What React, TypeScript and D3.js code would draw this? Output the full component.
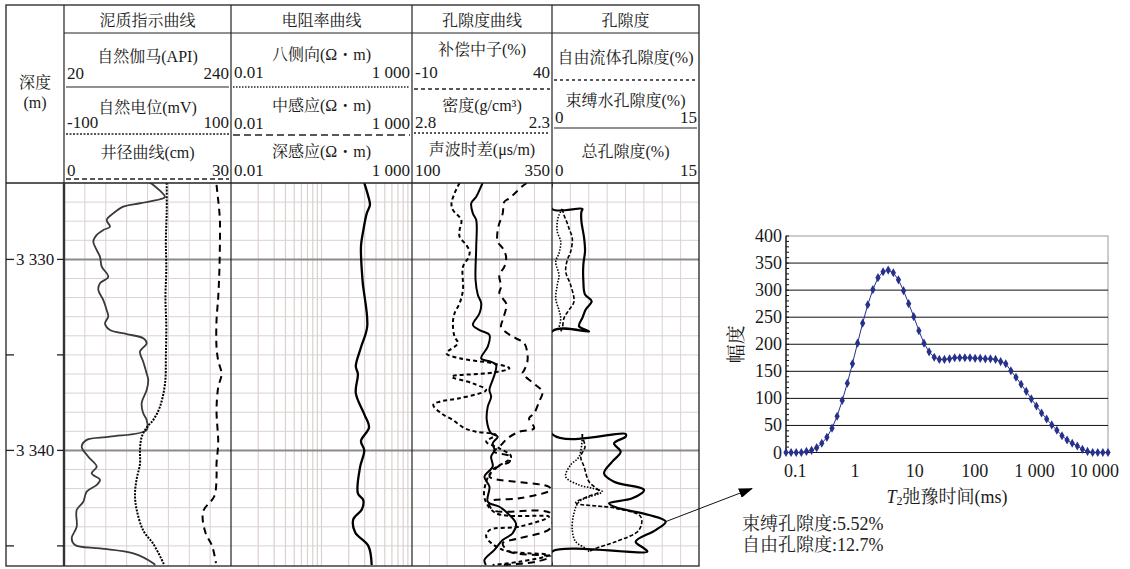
import * as d3 from "d3";

// ---------- well log curves, [depth (m), value] ----------
const depthTicks = [3330, 3335, 3340, 3345];
const depthLabelTicks = [3330, 3340];

const grCurve: [number, number][] = [
  [3326.0, 133], [3326.1, 137.6], [3326.72, 153], [3326.8, 150.8], [3327.06, 120.1], [3327.24, 98.1],
  [3327.59, 84.9], [3327.94, 76.2], [3328.29, 80.6], [3328.46, 71.8], [3328.72, 63.1], [3329.07, 58.6],
  [3329.51, 63.1], [3329.86, 67.4], [3330.38, 69.7], [3330.91, 78.3], [3331.25, 67.4], [3331.6, 65.2],
  [3332.13, 71.8], [3332.65, 76.2], [3333.0, 78.3], [3333.35, 74], [3333.7, 80.6], [3333.91, 102.6],
  [3334.13, 124.4], [3334.39, 128.9], [3334.83, 120.1], [3335.36, 124.4], [3335.97, 128.9], [3336.31, 131],
  [3336.84, 128.9], [3337.53, 122.3], [3338.06, 124.4], [3338.41, 128.9], [3338.93, 128.9], [3339.28, 80.6],
  [3339.45, 49.9], [3339.81, 43.3], [3340.33, 52], [3340.85, 63.1], [3341.2, 56.5], [3341.54, 67.4],
  [3341.81, 63.1], [3342.16, 49.9], [3342.69, 45.4], [3343.12, 36.7], [3344.0, 36.7], [3344.6, 30.1],
  [3344.95, 34.5], [3345.13, 67.4], [3345.39, 111.3], [3345.91, 137.6], [3346, 140],
];

const spCurve: [number, number][] = [
  [3326.0, 23], [3327.5, 23], [3329, 22], [3330.5, 22.5], [3332, 21.5], [3333.5, 22.5], [3335, 22],
  [3336.5, 21], [3337.7, 15], [3338.4, 7], [3338.8, -1], [3339.3, -7], [3340, -9], [3340.7, -9],
  [3341.5, -13], [3342.3, -15], [3343.1, -13], [3344.2, -5], [3344.9, 7], [3345.9, 19], [3346, 20],
];

const calCurve: [number, number][] = [
  [3326.1, 27.4], [3326.9, 27.7], [3327.9, 28], [3329.3, 28], [3330.7, 27.9], [3332, 27.7], [3333.2, 27.4],
  [3334.6, 27.4], [3335.3, 27.7], [3336, 28.3], [3336.7, 27.7], [3337.9, 27.4], [3339.6, 27.7], [3340.7, 27.4],
  [3341.4, 27.4], [3342.4, 27.0], [3343.2, 25.0], [3344.3, 25.4], [3345.0, 26.6], [3345.9, 27.3],
];

const deepResCurve: [number, number][] = [
  [3326.0, 48], [3326.1, 50], [3326.7, 62], [3327.15, 69], [3327.6, 56], [3328.5, 45], [3329.3, 39],
  [3331.1, 43], [3333.5, 58], [3334.6, 39], [3335.6, 28], [3336.0, 32], [3337.0, 28], [3338.1, 48],
  [3338.8, 65], [3339.5, 39], [3340.0, 48], [3340.85, 37], [3342.25, 32], [3342.6, 45], [3343.1, 41],
  [3343.6, 24], [3344.3, 27], [3345.0, 62], [3346.0, 77],
];

const acCurve: [number, number][] = [
  [3326.0, 226], [3326.16, 223.6], [3326.72, 214.7], [3327.06, 205.8], [3327.59, 208.7], [3327.94, 214.7],
  [3329.33, 214.7], [3331.08, 213.5], [3331.86, 217.6], [3332.3, 223.6], [3332.82, 220.6], [3333.43, 208.7],
  [3333.7, 220.6], [3333.96, 238.3], [3334.57, 235.3], [3335.18, 223.6], [3335.36, 241.3], [3335.53, 250.2],
  [3336.05, 247.2], [3336.31, 244.1], [3336.84, 238.3], [3337.19, 241.3], [3337.71, 235.3], [3338.41, 233.5],
  [3339.1, 241.3], [3339.28, 253], [3339.63, 244.1], [3339.98, 247.2], [3340.33, 241.3], [3340.85, 244.1],
  [3341.38, 229.4], [3341.9, 238.3], [3342.69, 235.3], [3342.95, 256], [3343.29, 270.7], [3343.82, 285.6],
  [3344.34, 279.6], [3344.69, 261.9], [3345.21, 247.2], [3345.74, 229.4], [3346.0, 232],
];

const cnlCurve: [number, number][] = [
  [3326.0, 31], [3326.16, 29.5], [3326.8, 24.8], [3326.98, 23], [3327.59, 22.4], [3328.11, 21.2],
  [3328.46, 20.6], [3329.07, 20.6], [3329.42, 22.4], [3329.86, 23.6], [3330.38, 23], [3330.82, 21.2],
  [3331.43, 21.8], [3331.77, 21.2], [3332.3, 23.6], [3332.56, 23.6], [3333.17, 22.4], [3333.52, 21.8],
  [3333.87, 24.1], [3334.13, 27.1], [3334.39, 30.1], [3334.92, 31.2], [3335.36, 31.2], [3335.79, 30.1],
  [3335.96, 29.5], [3336.58, 34.2], [3336.93, 36.6], [3337.45, 35.4], [3338.06, 33.6], [3338.32, 31.8],
  [3338.84, 33.6], [3339.02, 28.3], [3339.37, 24.1], [3339.72, 21.8], [3340.07, 19.4], [3340.3, 24.8],
  [3340.6, 24.8], [3340.8, 21.2], [3341.1, 18.8], [3341.38, 17.7], [3341.9, 38.9], [3342.07, 39.5],
  [3342.51, 28.3], [3342.69, 17.7], [3343.12, 18.8], [3343.29, 39.5], [3344.06, 39.5], [3344.6, 28.3],
  [3344.86, 22.4], [3345.3, 24.8], [3345.56, 39.5], [3345.83, 34.2], [3346.0, 22.4],
];

const denCurve: [number, number][] = [
  [3326.0, 2.63], [3326.16, 2.636], [3326.54, 2.648], [3327.06, 2.659], [3327.41, 2.654], [3327.94, 2.624],
  [3328.46, 2.63], [3328.81, 2.63], [3329.25, 2.606], [3329.6, 2.594], [3329.94, 2.6], [3330.38, 2.618],
  [3331.6, 2.618], [3332.3, 2.63], [3332.82, 2.648], [3333.35, 2.654], [3334.05, 2.648], [3334.39, 2.636],
  [3334.92, 2.677], [3335.18, 2.63], [3335.44, 2.512], [3335.7, 2.452], [3335.93, 2.512], [3336.14, 2.659],
  [3336.49, 2.583], [3336.84, 2.535], [3337.27, 2.63], [3337.45, 2.701], [3337.62, 2.724], [3338.06, 2.695],
  [3338.41, 2.654], [3338.84, 2.612], [3339.02, 2.571], [3339.19, 2.5], [3339.54, 2.535], [3339.89, 2.488],
  [3340.33, 2.446], [3341.03, 2.512], [3341.64, 2.535], [3342.51, 2.541], [3343.29, 2.5], [3343.47, 2.311],
  [3343.99, 2.417], [3344.17, 2.523], [3344.52, 2.535], [3345.21, 2.476], [3345.48, 2.311], [3345.83, 2.417],
  [3346.0, 2.512],
];

const totalPor: [number, number][] = [
  [3326, 0], [3327.36, 0], [3327.36, 3.1], [3327.5, 3.0], [3328.0, 3.0], [3328.86, 3.27], [3329.57, 3.37],
  [3330.27, 3.2], [3331.14, 3.2], [3331.84, 3.37], [3332.19, 4.05], [3332.62, 3.44], [3333.06, 3.1],
  [3333.5, 2.76], [3333.77, 3.78], [3333.77, 0], [3339.14, 0], [3339.14, 7.52], [3339.28, 7.52],
  [3339.63, 6.33], [3340.07, 7.01], [3340.59, 6.15], [3341.2, 5.31], [3341.64, 6.33], [3342.07, 9.39],
  [3342.51, 8.19], [3342.77, 5.82], [3342.98, 6.5], [3343.38, 9.9], [3343.73, 11.6], [3344.17, 10.58],
  [3344.78, 8.54], [3345.13, 9.39], [3345.3, 9.73], [3345.3, 0], [3346, 0],
];
const freePorUpper: [number, number][] = [
  [3327.36, 1.05], [3327.68, 1.22], [3328.11, 1.56], [3328.37, 1.73], [3328.9, 2.07], [3329.6, 1.9],
  [3330.03, 1.56], [3330.64, 1.4], [3331.34, 1.9], [3332.21, 2.24], [3332.65, 1.73], [3333.08, 1.22],
  [3333.61, 1.05], [3333.77, 0.89],
];
const boundPorUpper: [number, number][] = [
  [3327.36, 1.05], [3327.68, 0.71], [3328.03, 0.54], [3328.55, 0.54], [3329.07, 0.89], [3329.68, 0.71],
  [3330.12, 0.38], [3330.82, 0.71], [3331.34, 0.54], [3332.04, 0.38], [3332.65, 0.71], [3333.08, 0.89],
  [3333.61, 0.71], [3333.77, 0.71],
];
const freePorLower: [number, number][] = [
  [3339.14, 3.1], [3339.28, 3.1], [3339.81, 3.37], [3340.33, 2.93], [3340.85, 3.27], [3341.64, 3.78],
  [3342.16, 4.8], [3342.39, 3.78], [3342.74, 2.42], [3343.03, 6.5], [3343.47, 9.05], [3344.17, 8.88],
  [3344.78, 6.5], [3345.13, 4.46], [3345.3, 3.78],
];
const boundPorLower: [number, number][] = [
  [3339.14, 3.1], [3339.28, 3.1], [3340.33, 2.76], [3340.76, 1.9], [3341.38, 1.4], [3341.81, 2.76],
  [3341.98, 4.11], [3342.16, 5.13], [3342.69, 2.76], [3343.29, 2.24], [3344.17, 2.07], [3344.78, 2.42],
  [3345.13, 3.44], [3345.3, 3.78],
];
// sample depth the arrow points from (total porosity peak)
const arrowFrom: [number, number] = [3343.73, 11.6];

// ---------- T2 spectrum ----------
const t2Times = [
  0.07, 0.0852, 0.1038, 0.1264, 0.1538, 0.1873, 0.228, 0.2777, 0.3381, 0.4116, 0.5011, 0.6101, 0.7428,
  0.9044, 1.101, 1.34, 1.632, 1.987, 2.419, 2.945, 3.586, 4.367, 5.316, 6.473, 7.881, 9.596, 11.68, 14.22,
  17.32, 21.09, 25.67, 31.26, 38.06, 46.34, 56.42, 68.7, 83.64, 101.8, 124.0, 150.9, 183.8, 223.7, 272.4,
  331.7, 403.8, 491.7, 598.6, 728.8, 887.3, 1080, 1315, 1601, 1950, 2374, 2890, 3518, 4284, 5215, 6350,
  7731, 9412, 11460, 13950, 16990,
];
const t2Amp = [
  0, 0, 0, 0, 2, 4, 9, 17, 28, 45, 67, 96, 128, 164, 202, 239, 273, 301, 323, 334, 337, 332, 319, 299,
  275, 251, 225, 202, 186, 176, 172, 172, 173, 175, 175, 175, 175, 174, 174, 173, 173, 172, 168, 164,
  151, 139, 126, 113, 99, 86, 73, 62, 51, 41, 31, 23, 17, 12, 6, 2, 0, 0, 0, 0,
];
const t2YTicks = [0, 50, 100, 150, 200, 250, 300, 350, 400];
const t2XTicks = [0.1, 1, 10, 100, 1000, 10000];
const boundText = "束缚孔隙度:5.52%";
const freeText = "自由孔隙度:12.7%";

const FONT = '"Liberation Serif", "Noto Serif CJK SC", "Noto Sans CJK SC", serif';
const GRID = "#dcd0d0";
const BLUE = "#27308a";

const spaced = (v: number) => d3.format(",")(v).replace(/,/g, " ");

type Sub = { name: string; ny: number; left?: string; right?: string; sy?: number; line?: { y: number; dash?: string } };
type Col = { key: string; x0: number; x1: number; title: string; subs: Sub[] };

const columns: Col[] = [
  {
    key: "gr", x0: 64, x1: 231, title: "泥质指示曲线",
    subs: [
      { name: "自然伽马(API)", ny: 62, left: "20", right: "240", sy: 79, line: { y: 87 } },
      { name: "自然电位(mV)", ny: 113, left: "-100", right: "100", sy: 128, line: { y: 134, dash: "2 1.5" } },
      { name: "井径曲线(cm)", ny: 158, left: "0", right: "30", sy: 176, line: { y: 179, dash: "5 3" } },
    ],
  },
  {
    key: "res", x0: 231, x1: 412, title: "电阻率曲线",
    subs: [
      { name: "八侧向(Ω・m)", ny: 60, left: "0.01", right: "1 000", sy: 78, line: { y: 87, dash: "1.5 1.5" } },
      { name: "中感应(Ω・m)", ny: 111, left: "0.01", right: "1 000", sy: 129, line: { y: 135, dash: "7 4" } },
      { name: "深感应(Ω・m)", ny: 157, left: "0.01", right: "1 000", sy: 176 },
    ],
  },
  {
    key: "pc", x0: 412, x1: 552, title: "孔隙度曲线",
    subs: [
      { name: "补偿中子(%)", ny: 55, left: "-10", right: "40", sy: 78, line: { y: 89, dash: "4 3" } },
      { name: "密度(g/cm³)", ny: 111, left: "2.8", right: "2.3", sy: 128, line: { y: 133, dash: "2 2" } },
      { name: "声波时差(μs/m)", ny: 155, left: "100", right: "350", sy: 176 },
    ],
  },
  {
    key: "por", x0: 552, x1: 699, title: "孔隙度",
    subs: [
      { name: "自由流体孔隙度(%)", ny: 63, line: { y: 80, dash: "3 3" } },
      { name: "束缚水孔隙度(%)", ny: 106, left: "0", right: "15", sy: 123, line: { y: 128 } },
      { name: "总孔隙度(%)", ny: 157, left: "0", right: "15", sy: 176 },
    ],
  },
];

export default function App() {
  const top = 5, headBottom = 183, bottom = 566, left = 6, right = 699;
  const depthY = d3.scaleLinear().domain([3326, 3346]).range([183, 565]);

  const grX = d3.scaleLinear().domain([20, 240]).range([64, 231]);
  const spX = d3.scaleLinear().domain([-100, 100]).range([64, 231]);
  const calX = d3.scaleLinear().domain([0, 30]).range([64, 231]);
  const resX = d3.scaleLog().domain([0.01, 1000]).range([231, 412]);
  // background chart paper of the resistivity track is printed with two log cycles
  const resPaper = d3.scaleLog().domain([1, 100]).range([231, 412]);
  const cnlX = d3.scaleLinear().domain([-10, 40]).range([412, 552]);
  const denX = d3.scaleLinear().domain([2.8, 2.3]).range([412, 552]);
  const acX = d3.scaleLinear().domain([100, 350]).range([412, 552]);
  const porX = d3.scaleLinear().domain([0, 15]).range([552, 699]);

  const smooth = (sx: d3.ScaleContinuousNumeric<number, number>) =>
    d3.line<[number, number]>().x(d => sx(d[1])).y(d => depthY(d[0])).curve(d3.curveCatmullRom.alpha(0.5));

  const minorDepths = d3.range(3327, 3346);
  const linearTracks = columns.filter(c => c.key !== "res");
  const resGrid: number[] = [];
  [0, 1].forEach(e => d3.range(1, 10).forEach(k => {
    const v = k * Math.pow(10, e);
    if (v > 1) resGrid.push(v);
  }));

  // T2 chart
  const t2X = d3.scaleLog().domain([0.07, 17000]).range([786, 1108]);
  const t2Y = d3.scaleLinear().domain([0, 400]).range([452.5, 236]);
  const t2Line = d3.line<number>().x((_, i) => t2X(t2Times[i])).y(d => t2Y(d));
  const diamond = d3.symbol(d3.symbolDiamond, 24)()!;
  const [px0, px1] = t2X.range();
  const [py0, py1] = t2Y.range();

  const arrowX1 = porX(arrowFrom[1]);
  const arrowY1 = depthY(arrowFrom[0]);
  const arrowX2 = px0 - 34;
  const arrowY2 = py0 + 36;

  const tx = { fontFamily: FONT };

  return (
    <svg width={1130} height={569} style={{ position: "absolute", left: 0, top: 0, background: "#fff", fontFamily: FONT }}>
      <defs>
        {columns.map(c => (
          <clipPath id={`clip-${c.key}`} key={c.key}>
            <rect x={c.x0} y={headBottom} width={c.x1 - c.x0} height={bottom - headBottom} />
          </clipPath>
        ))}
        <marker id="arrow" markerUnits="userSpaceOnUse" markerWidth={14} markerHeight={10} refX={13} refY={5} orient="auto">
          <path d="M0,0 L14,5 L0,10 Z" fill="#000" />
        </marker>
      </defs>

      {/* grid */}
      <g>
        {minorDepths.map(d => (
          <line key={d} x1={64} x2={right} y1={depthY(d)} y2={depthY(d)} stroke={GRID} strokeWidth={1} />
        ))}
        {linearTracks.map(c => {
          const s = d3.scaleLinear().domain([0, 8]).range([c.x0, c.x1]);
          return d3.range(1, 8).map(i => (
            <line key={c.key + i} x1={s(i)} x2={s(i)} y1={headBottom} y2={bottom} stroke={GRID} strokeWidth={1} />
          ));
        })}
        {resGrid.map(v => (
          <line key={v} x1={resPaper(v)} x2={resPaper(v)} y1={headBottom} y2={bottom} stroke={GRID} strokeWidth={1.2} />
        ))}
        {depthLabelTicks.map(d => (
          <line key={d} x1={64} x2={right} y1={depthY(d)} y2={depthY(d)} stroke="#8d8a8a" strokeWidth={2} />
        ))}
      </g>

      {/* curves */}
      <g fill="none" stroke="#000">
        <g clipPath="url(#clip-gr)">
          <path d={smooth(grX)(grCurve)!} stroke="#3a3a3a" strokeWidth={1.8} />
          <path d={smooth(spX)(spCurve)!} strokeWidth={2} strokeDasharray="2 1.3" />
          <path d={smooth(calX)(calCurve)!} strokeWidth={2} strokeDasharray="7 5" />
        </g>
        <g clipPath="url(#clip-res)">
          <path d={smooth(resX)(deepResCurve)!} strokeWidth={2.3} />
        </g>
        <g clipPath="url(#clip-pc)">
          <path d={smooth(acX)(acCurve)!} strokeWidth={2} />
          <path d={smooth(cnlX)(cnlCurve)!} strokeWidth={2} strokeDasharray="7 5" />
          <path d={smooth(denX)(denCurve)!} strokeWidth={2} strokeDasharray="4 3" />
        </g>
        <g clipPath="url(#clip-por)">
          <path d={smooth(porX)(totalPor)!} strokeWidth={2.2} />
          <path d={smooth(porX)(freePorUpper)!} strokeWidth={1.6} strokeDasharray="4 2" />
          <path d={smooth(porX)(freePorLower)!} strokeWidth={1.6} strokeDasharray="4 2" />
          <path d={smooth(porX)(boundPorUpper)!} strokeWidth={1.6} strokeDasharray="1.5 1.5" />
          <path d={smooth(porX)(boundPorLower)!} strokeWidth={1.6} strokeDasharray="1.5 1.5" />
        </g>
      </g>

      {/* table frame */}
      <g stroke="#222" fill="none">
        <rect x={left} y={top} width={right - left} height={bottom - top} strokeWidth={1.3} />
        <line x1={64} x2={right} y1={33} y2={33} strokeWidth={1.2} />
        <line x1={left} x2={right} y1={headBottom} y2={headBottom} strokeWidth={1.3} />
        {columns.map(c => (
          <line key={c.key} x1={c.x0} x2={c.x0} y1={top} y2={bottom} strokeWidth={1.2} />
        ))}
        <line x1={64} x2={64} y1={headBottom} y2={bottom} strokeWidth={2.4} stroke="#333" />
      </g>

      {/* header text */}
      <g fill="#1a1a1a" style={tx}>
        <text x={35} y={88} fontSize={16} textAnchor="middle" style={tx}>深度</text>
        <text x={35} y={108} fontSize={16} textAnchor="middle" style={tx}>(m)</text>
        {columns.map(c => {
          const cx = (c.x0 + c.x1) / 2;
          return (
            <g key={c.key}>
              <text x={cx} y={26} fontSize={16} textAnchor="middle" style={tx}>{c.title}</text>
              {c.subs.map((s, i) => (
                <g key={i}>
                  <text x={cx} y={s.ny} fontSize={16} textAnchor="middle" style={tx}>{s.name}</text>
                  {s.left && <text x={c.x0 + 3} y={s.sy} fontSize={17} style={tx}>{s.left}</text>}
                  {s.right && <text x={c.x1 - 2} y={s.sy} fontSize={17} textAnchor="end" style={tx}>{s.right}</text>}
                  {s.line && (
                    <line x1={c.x0 + 2} x2={c.x1 - 2} y1={s.line.y} y2={s.line.y} stroke="#222"
                      strokeWidth={s.line.dash ? 1.3 : 1.2} strokeDasharray={s.line.dash} />
                  )}
                </g>
              ))}
            </g>
          );
        })}
      </g>

      {/* depth axis */}
      <g stroke="#222" strokeWidth={1.3}>
        {depthTicks.map(d => (
          <g key={d}>
            <line x1={left} x2={left + 8} y1={depthY(d)} y2={depthY(d)} />
            <line x1={57} x2={64} y1={depthY(d)} y2={depthY(d)} />
          </g>
        ))}
      </g>
      {depthLabelTicks.map(d => (
        <text key={d} x={35} y={depthY(d) + 6} fontSize={17} textAnchor="middle" fill="#1a1a1a" style={tx}>{spaced(d)}</text>
      ))}

      {/* arrow + annotation */}
      <line x1={arrowX1} y1={arrowY1} x2={arrowX2} y2={arrowY2} stroke="#111" strokeWidth={1} markerEnd="url(#arrow)" />
      <text x={742} y={530} fontSize={18} fill="#222" style={tx}>{boundText}</text>
      <text x={742} y={551} fontSize={18} fill="#222" style={tx}>{freeText}</text>

      {/* T2 chart */}
      <g>
        <rect x={px0} y={py1} width={px1 - px0} height={py0 - py1} fill="none" stroke="#9a9a9a" strokeWidth={1} />
        {t2YTicks.filter(v => v > 0 && v < 400).map(v => (
          <line key={v} x1={px0} x2={px1} y1={t2Y(v)} y2={t2Y(v)} stroke="#111" strokeWidth={1} />
        ))}
        <line x1={px0} x2={px1} y1={py0} y2={py0} stroke="#111" strokeWidth={1} />
        <line x1={px0} x2={px0} y1={py1} y2={py0} stroke="#111" strokeWidth={1.3} />
        {d3.range(0, 401, 10).map(v => (
          <line key={v} x1={px0} x2={px0 + 3} y1={t2Y(v)} y2={t2Y(v)} stroke="#111" strokeWidth={1} />
        ))}
        {t2YTicks.map(v => (
          <text key={v} x={px0 - 4} y={t2Y(v) + 6} fontSize={18} textAnchor="end" fill="#1a1a1a" style={tx}>{v}</text>
        ))}
        {t2XTicks.map(v => (
          <text key={v} x={t2X(v)} y={477} fontSize={18} textAnchor="middle" fill="#1a1a1a" style={tx}>{v >= 1000 ? spaced(v) : String(v)}</text>
        ))}
        <path d={t2Line(t2Amp)!} fill="none" stroke={BLUE} strokeWidth={1} />
        {t2Amp.map((a, i) => (
          <path key={i} d={diamond} transform={`translate(${t2X(t2Times[i])},${t2Y(a)})`} fill={BLUE} />
        ))}
        <text transform={`translate(743,${(py0 + py1) / 2}) rotate(-90)`} fontSize={19} textAnchor="middle" fill="#1a1a1a" style={tx}>幅度</text>
        <text x={(px0 + px1) / 2} y={503} fontSize={18} textAnchor="middle" fill="#1a1a1a" style={tx}>
          <tspan fontStyle="italic">T</tspan>
          <tspan fontSize={12} dy={2}>2</tspan>
          <tspan dy={-2}>弛豫时间(ms)</tspan>
        </text>
      </g>
    </svg>
  );
}
